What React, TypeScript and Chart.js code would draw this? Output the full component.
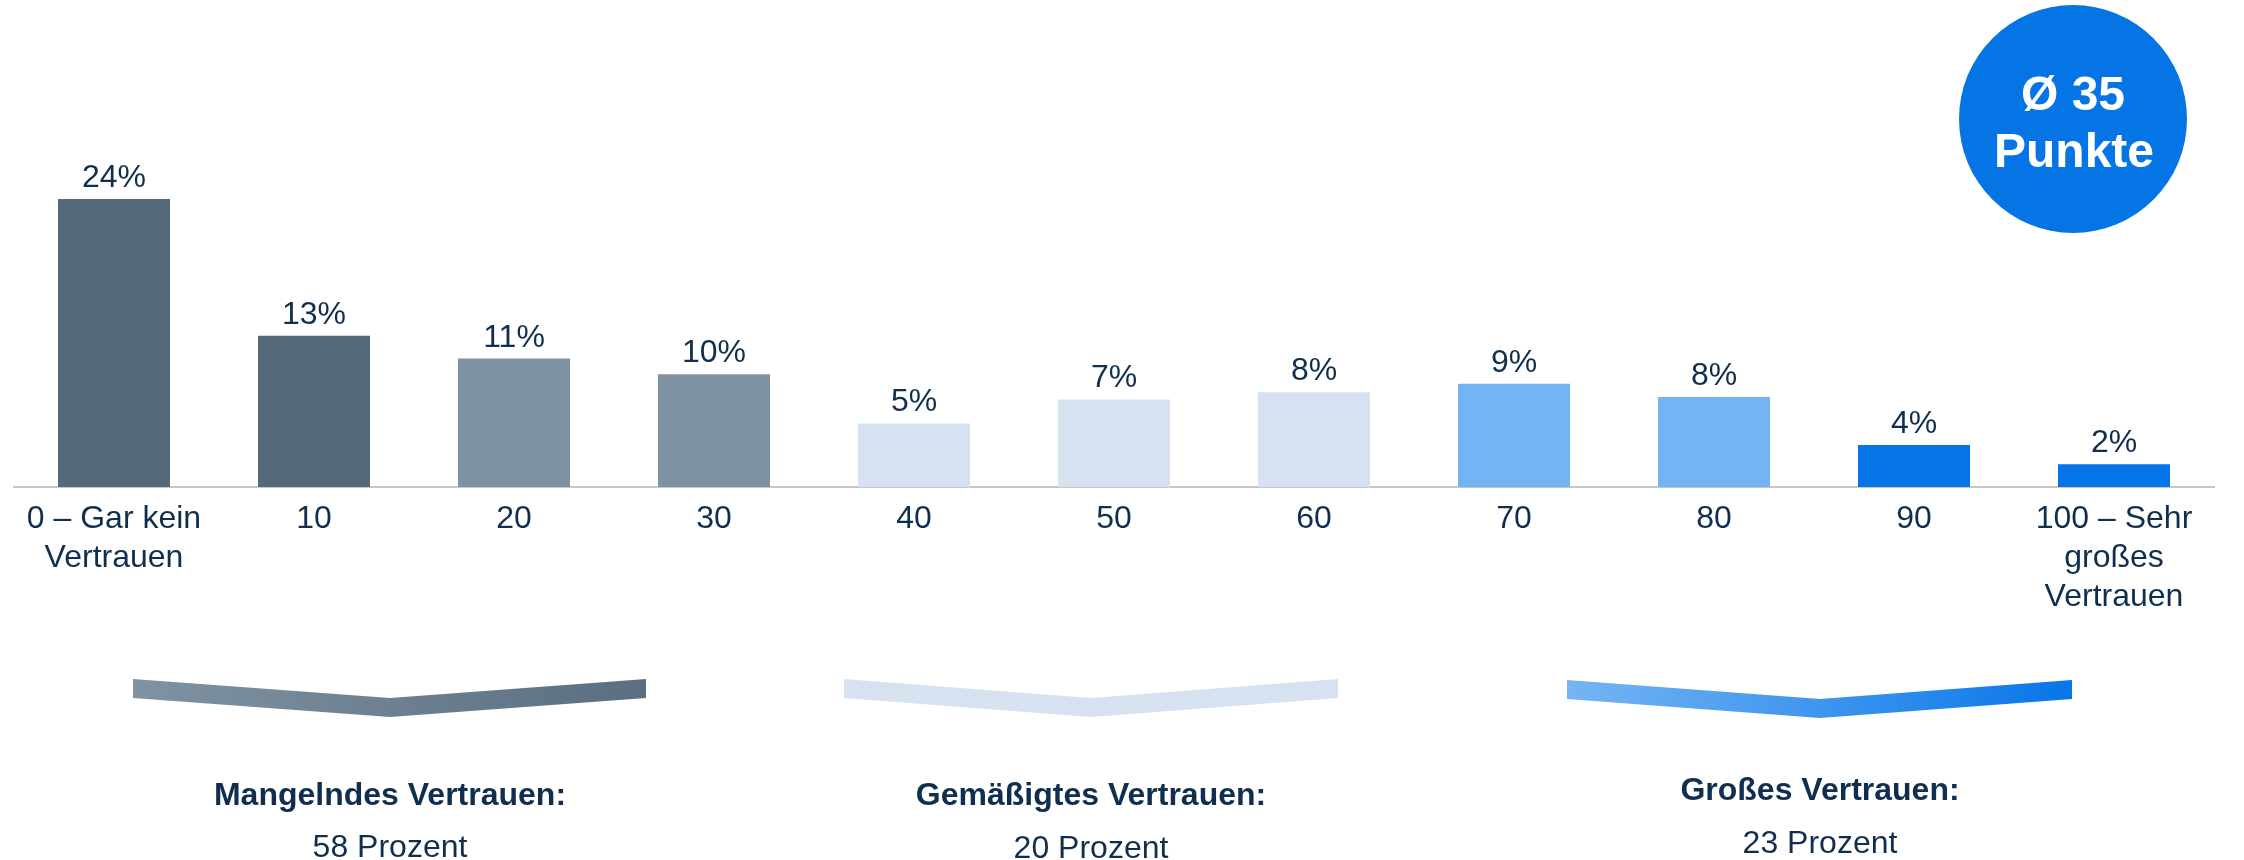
import React, { useEffect, useRef } from "react";
import { Chart, registerables } from "chart.js";

Chart.register(...registerables);

// ---- Data ----
const categories: (string | string[])[] = [
  ["0 – Gar kein", "Vertrauen"],
  "10",
  "20",
  "30",
  "40",
  "50",
  "60",
  "70",
  "80",
  "90",
  ["100 – Sehr", "großes", "Vertrauen"],
];
const shares: number[] = [24.0, 12.6, 10.7, 9.4, 5.3, 7.3, 7.9, 8.6, 7.5, 3.5, 1.9];
const shareLabels: string[] = ["24%", "13%", "11%", "10%", "5%", "7%", "8%", "9%", "8%", "4%", "2%"];
const barColors: string[] = [
  "#556978", "#556978",
  "#7f92a2", "#7f92a2",
  "#d6e2ef", "#d6e2ef", "#d6e2ef",
  "#75b4f2", "#75b4f2",
  "#0675e8", "#0675e8",
];
const groupTitles: string[] = ["Mangelndes Vertrauen:", "Gemäßigtes Vertrauen:", "Großes Vertrauen:"];
const groupValues: string[] = ["58 Prozent", "20 Prozent", "23 Prozent"];
const averageLines: string[] = ["Ø 35", "Punkte"];

// ---- Styling / layout ----
const FONT = '"Liberation Sans", Arial, Helvetica, sans-serif';
const TEXT = "#102f4f";
const W = 2244;
const H = 860;

const chevrons = [
  { x0: 133, xm: 390, x1: 646, top: 679, c0: "#7f93a3", c1: "#5a6e7f", tY: 805, vY: 857 },
  { x0: 844, xm: 1091, x1: 1338, top: 679, c0: "#d6e2ef", c1: "#d6e2ef", tY: 805, vY: 858 },
  { x0: 1567, xm: 1820, x1: 2072, top: 680, c0: "#76b5f3", c1: "#0675e8", tY: 800, vY: 853 },
];

const labelPlugin = {
  id: "barLabels",
  afterDatasetsDraw(chart: any) {
    const ctx = chart.ctx;
    const meta = chart.getDatasetMeta(0);
    ctx.save();
    ctx.font = `32px ${FONT}`;
    ctx.fillStyle = TEXT;
    ctx.textAlign = "center";
    ctx.textBaseline = "alphabetic";
    meta.data.forEach((el: any, i: number) => {
      ctx.fillText(shareLabels[i], el.x, el.y - 12);
    });
    ctx.restore();
  },
};

const decorPlugin = {
  id: "decor",
  afterDraw(chart: any) {
    const ctx = chart.ctx;
    ctx.save();
    // chevrons
    const th = 19;
    chevrons.forEach((c, i) => {
      const g = ctx.createLinearGradient(c.x0, c.top, c.x1, c.top + 2 * th);
      g.addColorStop(0, c.c0);
      g.addColorStop(1, c.c1);
      ctx.fillStyle = g;
      ctx.beginPath();
      ctx.moveTo(c.x0, c.top);
      ctx.lineTo(c.xm, c.top + th);
      ctx.lineTo(c.x1, c.top);
      ctx.lineTo(c.x1, c.top + th);
      ctx.lineTo(c.xm, c.top + 2 * th);
      ctx.lineTo(c.x0, c.top + th);
      ctx.closePath();
      ctx.fill();

      ctx.fillStyle = TEXT;
      ctx.textAlign = "center";
      ctx.textBaseline = "alphabetic";
      ctx.font = `bold 32px ${FONT}`;
      ctx.fillText(groupTitles[i], c.xm, c.tY);
      ctx.font = `32px ${FONT}`;
      ctx.fillText(groupValues[i], c.xm, c.vY);
    });

    // average circle
    ctx.fillStyle = "#0575e6";
    ctx.beginPath();
    ctx.arc(2073, 119, 114, 0, Math.PI * 2);
    ctx.fill();
    ctx.fillStyle = "#ffffff";
    ctx.font = `bold 48px ${FONT}`;
    ctx.textAlign = "center";
    ctx.fillText(averageLines[0], 2073, 110);
    ctx.fillText(averageLines[1], 2074, 167);
    ctx.restore();
  },
};

export default function App() {
  const ref = useRef<HTMLCanvasElement | null>(null);

  useEffect(() => {
    if (!ref.current) return;
    const chart = new Chart(ref.current, {
      type: "bar",
      data: {
        labels: categories,
        datasets: [
          {
            data: shares,
            backgroundColor: barColors,
            borderWidth: 0,
            barPercentage: 0.56,
            categoryPercentage: 1,
          },
        ],
      },
      options: {
        responsive: false,
        animation: false,
        devicePixelRatio: 1,
        layout: { padding: { top: 127, left: 14, right: 30, bottom: 0 } },
        plugins: {
          legend: { display: false },
          tooltip: { enabled: false },
          title: { display: false },
        },
        scales: {
          x: {
            grid: { display: false, drawTicks: false },
            border: { display: true, color: "#c6c6c6", width: 2 },
            ticks: {
              color: TEXT,
              font: { family: FONT, size: 32, lineHeight: 1.22 },
              padding: 13,
              maxRotation: 0,
              minRotation: 0,
              autoSkip: false,
            },
            afterFit(scale: any) {
              scale.height = 373;
            },
          },
          y: {
            display: false,
            min: 0,
            max: 30,
          },
        },
      },
      plugins: [labelPlugin, decorPlugin],
    });
    return () => chart.destroy();
  }, []);

  return (
    <div style={{ position: "absolute", left: 0, top: 0, width: W, height: H, background: "#ffffff" }}>
      <canvas ref={ref} width={W} height={H} style={{ width: W, height: H, display: "block" }} />
    </div>
  );
}
